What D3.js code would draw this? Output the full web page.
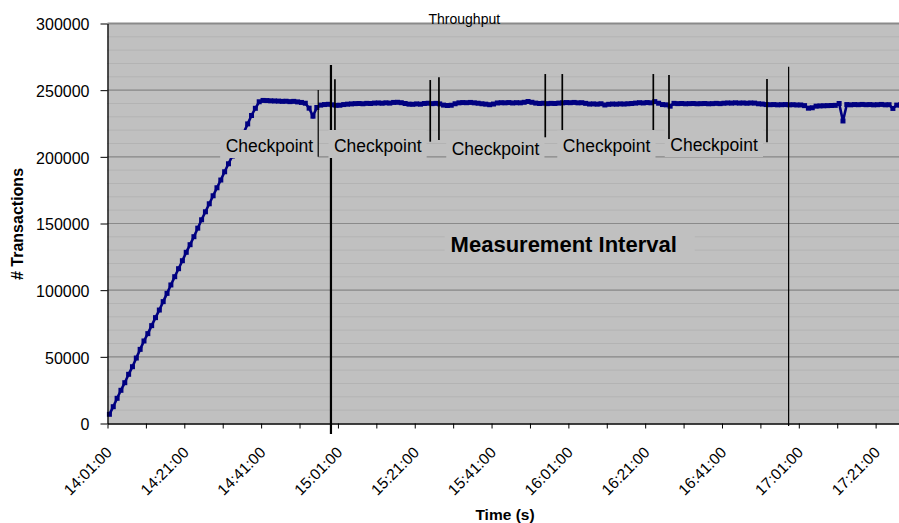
<!DOCTYPE html>
<html>
<head>
<meta charset="utf-8">
<script src="https://cdn.jsdelivr.net/npm/d3@7"></script>
<style>
  body { margin: 0; background: #fff; }
  svg { display: block; font-family: "Liberation Sans", Arial, sans-serif; }
</style>
</head>
<body>
<div class="chart"></div>
<script>
// Throughput samples, one per minute from 14:01:00
var startTime = "14:01:00";
var transactions = [
  6900, 12600, 18900, 24900, 30600, 36900, 42600, 49100, 55600, 61900,
  67400, 73400, 79400, 85100, 91400, 97600, 103900, 110100, 116100, 122100,
  128400, 134100, 140100, 146500, 152800, 158800, 164800, 170800, 176800, 182600,
  188800, 194800, 200600, 206500, 212400, 218300, 224700, 231000, 236400, 241300,
  242300, 242200, 242000, 241900, 241800, 241600, 241700, 241400, 241600, 241200,
  240800, 240200, 236500, 230500, 237000, 238800, 239200, 239400, 239000, 238600,
  238700, 239200, 239500, 239700, 239900, 240000, 239800, 240100, 240000, 240300,
  240400, 240200, 240500, 240300, 240800, 240900, 240600, 240000, 239500, 239400,
  239700, 239500, 240000, 240200, 239900, 240100, 239700, 238800, 238500, 238700,
  239800, 240500, 240700, 240600, 240800, 240500, 240200, 239800, 239500, 239100,
  239600, 240400, 240600, 240500, 240700, 240400, 240600, 240500, 240900, 241500,
  240900, 240300, 240000, 240200, 239900, 240100, 240000, 240300, 240500, 240700,
  240600, 240800, 240500, 240600, 240100, 239600, 239700, 239500, 239800, 238900,
  239400, 239600, 239500, 239700, 239600, 239800, 240000, 240300, 240600, 240400,
  240700, 240500, 241400, 240200, 239200, 239000, 238000, 240100, 239900, 240000,
  239800, 239900, 240000, 239800, 239900, 240000, 239800, 239900, 240100, 239900,
  240200, 240400, 240300, 240500, 240300, 240400, 240200, 240400, 240300, 239800,
  239600, 239200, 239100, 239200, 239000, 239100, 239200, 239000, 239100, 238900,
  238900, 238400, 236500, 236800, 238000, 238200, 238300, 238400, 238500, 238600,
  240000, 226900, 239200, 239000, 239200, 239100, 239300, 239100, 239200, 239000,
  239100, 239300, 239000, 239100, 236300, 238800, 239000
];

var yTicks = [0, 50000, 100000, 150000, 200000, 250000, 300000];
var xLabels = ["14:01:00", "14:21:00", "14:41:00", "15:01:00", "15:21:00", "15:41:00",
               "16:01:00", "16:21:00", "16:41:00", "17:01:00", "17:21:00"];
var xDomain = ["14:00:30", "17:27:30"];

// checkpoint markers: [time, top value, bottom value]
var checkpointLines = [
  ["14:55:22", 250100, 200100],
  ["14:59:43", 258150, 220100],
  ["15:24:32", 257600, 211350],
  ["15:26:48", 259650, 212600],
  ["15:54:29", 262100, 214650],
  ["15:58:55", 262100, 220100],
  ["16:22:37", 262100, 220100],
  ["16:26:42", 261400, 213400],
  ["16:52:13", 258400, 210900]
];
// start / end of the measurement interval
var intervalLines = [
  ["14:58:41", 268900, -7900],
  ["16:57:51", 267600, -1900]
];
// checkpoint labels: [centre time, baseline value]
var checkpointLabels = [
  ["14:42:40", 204000],
  ["15:10:52", 204000],
  ["15:41:32", 201750],
  ["16:10:27", 203600],
  ["16:38:26", 204750]
];
var measurementLabel = ["15:59:17", 128400];

var parseTime = d3.timeParse("%H:%M:%S");

var svgWidth = 899, svgHeight = 523;
var margin = { top: 23.5, left: 107.5 };
var width = 795, height = 400;

var svg = d3.select(".chart").append("svg")
  .attr("width", svgWidth)
  .attr("height", svgHeight);

var chartGroup = svg.append("g")
  .attr("transform", `translate(${margin.left}, ${margin.top})`);

var xScale = d3.scaleTime()
  .domain(xDomain.map(parseTime))
  .range([0, width]);

var yScale = d3.scaleLinear()
  .domain([0, 300000])
  .range([height, 0]);

var t0 = parseTime(startTime);
var data = transactions.map(function (v, i) {
  return { time: d3.timeMinute.offset(t0, i), value: v };
});

// plot background
chartGroup.append("rect")
  .attr("width", width)
  .attr("height", height)
  .attr("fill", "#c0c0c0");

// minor gridlines
chartGroup.selectAll(".minor")
  .data(d3.range(10000, 300000, 10000))
  .enter().append("line")
  .attr("x1", 0).attr("x2", width)
  .attr("y1", d => yScale(d)).attr("y2", d => yScale(d))
  .attr("stroke", "#b3b3b3")
  .attr("stroke-width", 1);

// major gridlines
chartGroup.selectAll(".major")
  .data(yTicks.slice(1))
  .enter().append("line")
  .attr("x1", 0).attr("x2", width)
  .attr("y1", d => yScale(d)).attr("y2", d => yScale(d))
  .attr("stroke", "#8a8a8a")
  .attr("stroke-width", d => d === 300000 ? 2 : 1.2);

// series
var line = d3.line()
  .x(d => xScale(d.time))
  .y(d => yScale(d.value));

chartGroup.append("path")
  .datum(data)
  .attr("fill", "none")
  .attr("stroke", "#000080")
  .attr("stroke-width", 2.6)
  .attr("d", line);

chartGroup.selectAll(".pt")
  .data(data)
  .enter().append("rect")
  .attr("x", d => xScale(d.time) - 2.5)
  .attr("y", d => yScale(d.value) - 2.5)
  .attr("width", 5)
  .attr("height", 5)
  .attr("fill", "#000080");

// measurement interval lines (behind the label boxes)
chartGroup.selectAll(".interval")
  .data(intervalLines)
  .enter().append("line")
  .attr("x1", d => xScale(parseTime(d[0]))).attr("x2", d => xScale(parseTime(d[0])))
  .attr("y1", d => yScale(d[1])).attr("y2", d => yScale(d[2]))
  .attr("stroke", "#000")
  .attr("stroke-width", (d, i) => i === 0 ? 2.2 : 1.2);

// checkpoint label boxes
function boxedLabel(t, v, txt, size, weight, pad) {
  var g = chartGroup.append("g");
  var box = g.append("rect").attr("fill", "#c0c0c0");
  var text = g.append("text")
    .attr("x", xScale(parseTime(t)))
    .attr("y", yScale(v))
    .attr("text-anchor", "middle")
    .attr("font-size", size)
    .attr("font-weight", weight)
    .attr("fill", "#000")
    .text(txt);
  var bb = text.node().getBBox();
  box.attr("x", bb.x - pad[0])
    .attr("y", bb.y - pad[2])
    .attr("width", bb.width + pad[0] + pad[1])
    .attr("height", bb.height + pad[2] + pad[3]);
}

checkpointLabels.forEach(function (d) {
  boxedLabel(d[0], d[1], "Checkpoint", "17.5px", "normal", [5.5, 5, 5.5, 2.5]);
});
boxedLabel(measurementLabel[0], measurementLabel[1], "Measurement Interval", "22px", "bold", [6, 18, 7, 5]);

// checkpoint lines
chartGroup.selectAll(".cp")
  .data(checkpointLines)
  .enter().append("line")
  .attr("x1", d => xScale(parseTime(d[0]))).attr("x2", d => xScale(parseTime(d[0])))
  .attr("y1", d => yScale(d[1])).attr("y2", d => yScale(d[2]))
  .attr("stroke", "#000")
  .attr("stroke-width", (d, i) => i === 0 ? 1.2 : 1.7);

// axes
var leftAxis = d3.axisLeft(yScale)
  .tickValues(yTicks)
  .tickSize(7)
  .tickSizeOuter(0)
  .tickPadding(11)
  .tickFormat(d3.format("d"));

var yAxisG = chartGroup.append("g").call(leftAxis);
yAxisG.selectAll("text")
  .attr("font-size", "16px")
  .attr("font-family", "Liberation Sans, Arial, sans-serif")
  .attr("fill", "#000")
  .attr("dy", "0.4em");

var tickMarks = d3.range(0, 21).map(k => d3.timeMinute.offset(parseTime(xDomain[0]), 10 * k));
var bottomAxis = d3.axisBottom(xScale)
  .tickValues(tickMarks)
  .tickSize(5)
  .tickSizeOuter(0)
  .tickFormat("");

chartGroup.append("g")
  .attr("transform", `translate(0, ${height})`)
  .call(bottomAxis);

chartGroup.selectAll("path.domain")
  .attr("stroke", "#000")
  .attr("stroke-width", 1.3);
chartGroup.selectAll(".tick line")
  .attr("stroke", "#000");

chartGroup.selectAll(".xlab")
  .data(xLabels)
  .enter().append("text")
  .attr("transform", d => `translate(${xScale(parseTime(d)) + 3.5}, ${height + 30}) rotate(-45)`)
  .attr("text-anchor", "end")
  .attr("font-size", "15.5px")
  .attr("fill", "#000")
  .text(d => d);

// axis titles
svg.append("text")
  .attr("transform", "translate(23, 224) rotate(-90)")
  .attr("text-anchor", "middle")
  .attr("font-size", "16px")
  .attr("font-weight", "bold")
  .text("# Transactions");

svg.append("text")
  .attr("x", 505)
  .attr("y", 520)
  .attr("text-anchor", "middle")
  .attr("font-size", "15.5px")
  .attr("font-weight", "bold")
  .text("Time (s)");

svg.append("text")
  .attr("x", 464.3)
  .attr("y", 24)
  .attr("text-anchor", "middle")
  .attr("font-size", "14px")
  .text("Throughput");
</script>
</body>
</html>
